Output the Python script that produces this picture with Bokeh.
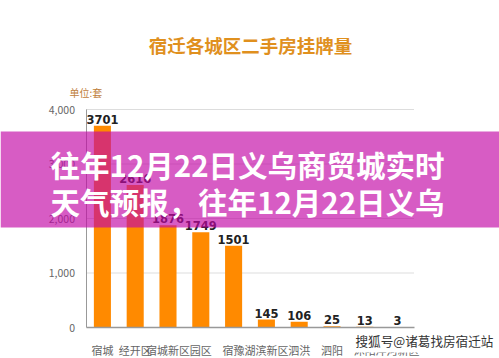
from bokeh.plotting import figure
from bokeh.models import (ColumnDataSource, Label, BoxAnnotation, NumeralTickFormatter,
                          FixedTicker, Range1d, FactorRange)
from bokeh.core.properties import value
from bokeh.embed import file_html
from bokeh.resources import INLINE

districts = ["宿城", "经开区", "宿城新区", "园区", "宿豫", "湖滨新区", "泗洪", "泗阳", "沭阳", "洋河新区"]
listings = [3701, 2616, 1876, 1749, 1501, 145, 106, 25, 13, 3]
y_ticks = [0, 1000, 2000, 3000, 4000]

chart_title = "宿迁各城区二手房挂牌量"
unit_text = "单位:套"
banner_line1 = "往年12月22日义乌商贸城实时"
banner_line2 = "天气预报，往年12月22日义乌"
watermark = "搜狐号@诸葛找房宿迁站"

CJK = "Noto Sans CJK SC"
W, H = 499, 358
# frame covers the whole canvas; axes are pinned inside it
FR_LEFT, FR_BOTTOM, FR_TOP = 86, 327, 109
px_per_unit = (FR_BOTTOM - FR_TOP) / 4000.0
y_lo = -(H - FR_BOTTOM) / px_per_unit
y_hi = 4000 + FR_TOP / px_per_unit
cat_px = 32.8
n = len(districts)
pad_left = FR_LEFT / cat_px
pad_right = (W - FR_LEFT) / cat_px - n
pad = (pad_left + pad_right) / 2

src = ColumnDataSource(dict(d=districts, v=listings, t=[str(x) for x in listings]))

p = figure(width=W, height=H,
           x_range=FactorRange(factors=districts, range_padding=pad, range_padding_units="absolute"),
           y_range=Range1d(y_lo, y_hi),
           output_backend="svg", toolbar_location=None,
           min_border=0)
p.outline_line_color = None
p.background_fill_color = "white"
p.border_fill_color = "white"
p.xgrid.grid_line_color = None
p.ygrid.grid_line_color = None

p.segment(x0=[0] * (len(y_ticks) - 1), x1=[n] * (len(y_ticks) - 1),
          y0=y_ticks[1:], y1=y_ticks[1:], line_color="#dddddd", line_width=1)

p.vbar(x="d", top="v", width=0.52, source=src, fill_color="#ff8a00", line_color=None)
p.text(x="d", y="v", text="t", source=src, text_align="center", text_baseline="bottom",
       y_offset=-2, text_font=value("DejaVu Sans"), text_font_style="bold",
       text_font_size="11.5px", text_color="#222222")

p.yaxis.fixed_location = 0
p.yaxis.bounds = (0, 4000)
p.yaxis.ticker = FixedTicker(ticks=y_ticks)
p.yaxis.formatter = NumeralTickFormatter(format="0,0")
p.yaxis.major_tick_line_color = None
p.yaxis.minor_tick_line_color = None
p.yaxis.axis_line_color = "#999999"
p.yaxis.major_label_text_color = "#666666"
p.yaxis.major_label_text_font = CJK
p.yaxis.major_label_text_font_size = "10.5px"
p.yaxis.major_label_standoff = 5

p.xaxis.fixed_location = 0
p.xaxis.bounds = (0, n)
p.xaxis.major_tick_line_color = None
p.xaxis.minor_tick_line_color = None
p.xaxis.axis_line_color = "#999999"
p.xaxis.axis_line_width = 1.5
p.xaxis.major_label_text_color = "#666666"
p.xaxis.major_label_text_font = CJK
p.xaxis.major_label_text_font_size = "11px"
p.xaxis.major_label_standoff = 8

p.add_layout(Label(x=250, y=H - 44, x_units="screen", y_units="screen", text=chart_title,
                   text_align="center", text_baseline="middle", text_font=CJK,
                   text_font_style="bold", text_font_size="18.5px", text_color="#e0901e"))
p.add_layout(Label(x=69, y=H - 92, x_units="screen", y_units="screen", text=unit_text,
                   text_align="left", text_baseline="middle", text_font=CJK,
                   text_font_size="10px", text_color="#c0803c"))

# white patch under the source watermark (it hides the last axis labels)
p.add_layout(BoxAnnotation(left=349, right=W, bottom=H - 352, top=H - 331,
                           left_units="screen", right_units="screen",
                           bottom_units="screen", top_units="screen",
                           fill_color="white", fill_alpha=1.0, line_color=None))
p.add_layout(Label(x=355, y=H - 340, x_units="screen", y_units="screen", text=watermark,
                   text_align="left", text_baseline="middle", text_font=CJK,
                   text_font_size="12.6px", text_color="#333333"))

p.add_layout(BoxAnnotation(left=0, right=W, bottom=H - 227, top=H - 131,
                           left_units="screen", right_units="screen",
                           bottom_units="screen", top_units="screen",
                           fill_color="#c208a5", fill_alpha=0.66, line_color=None, level="overlay"))
for i, line in enumerate([banner_line1, banner_line2]):
    p.add_layout(Label(x=50, y=H - 163 - 37 * i, x_units="screen", y_units="screen", text=line,
                       text_align="left", text_baseline="middle", text_font=CJK,
                       text_font_style="bold", text_font_size="29.5px", text_color="white",
                       level="overlay"))

open("out.html", "w").write(file_html(p, INLINE))
